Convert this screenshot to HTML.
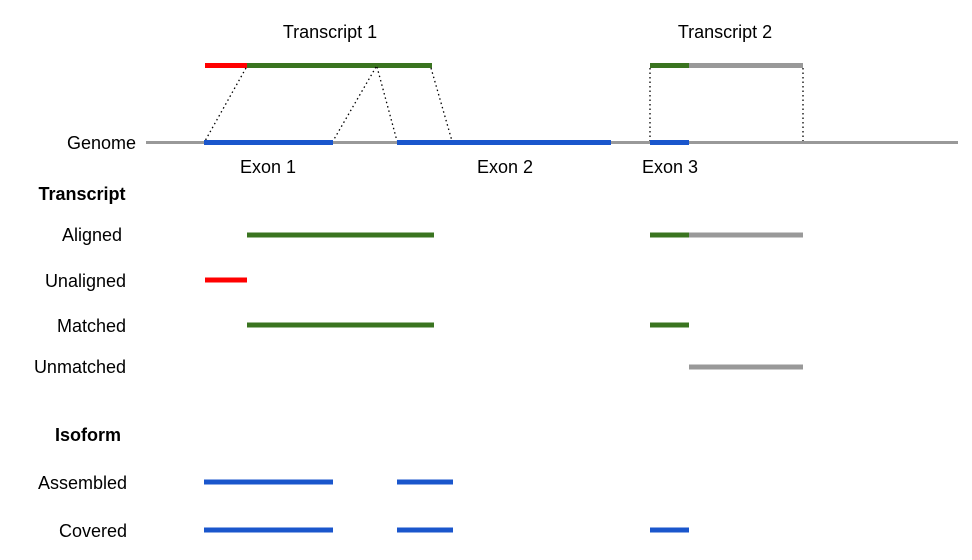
<!DOCTYPE html>
<html><head><style>body{margin:0;background:#fff}</style></head><body>
<svg width="972" height="555" xmlns="http://www.w3.org/2000/svg" font-family="Liberation Sans, sans-serif" font-size="18">
<rect width="972" height="555" fill="#fff"/>
<text x="330" y="38" text-anchor="middle">Transcript 1</text>
<text x="725" y="38" text-anchor="middle">Transcript 2</text>
<g stroke-width="5">
<line x1="205" y1="65.5" x2="247" y2="65.5" stroke="#f00"/>
<line x1="247" y1="65.5" x2="432" y2="65.5" stroke="#3a7420"/>
<line x1="650" y1="65.5" x2="689" y2="65.5" stroke="#3a7420"/>
<line x1="689" y1="65.5" x2="803" y2="65.5" stroke="#999"/>
</g>
<g stroke="#000" stroke-width="1.3" stroke-dasharray="1.5,3" fill="none">
<line x1="246" y1="68" x2="205" y2="141"/>
<line x1="376" y1="67" x2="333" y2="141"/>
<line x1="377" y1="67" x2="397" y2="141"/>
<line x1="431" y1="68" x2="452" y2="141"/>
<line x1="650" y1="68" x2="650" y2="141"/>
<line x1="803" y1="68" x2="803" y2="141"/>
</g>
<line x1="146" y1="142.5" x2="958" y2="142.5" stroke="#999" stroke-width="3"/>
<g stroke="#1a56cc" stroke-width="5">
<line x1="204" y1="142.5" x2="333" y2="142.5"/>
<line x1="397" y1="142.5" x2="611" y2="142.5"/>
<line x1="650" y1="142.5" x2="689" y2="142.5"/>
</g>
<text x="136" y="149" text-anchor="end">Genome</text>
<text x="268" y="173" text-anchor="middle">Exon 1</text>
<text x="505" y="173" text-anchor="middle">Exon 2</text>
<text x="670" y="173" text-anchor="middle">Exon 3</text>
<text x="82" y="200" text-anchor="middle" font-weight="bold">Transcript</text>
<text x="122" y="241" text-anchor="end">Aligned</text>
<text x="126" y="287" text-anchor="end">Unaligned</text>
<text x="126" y="332" text-anchor="end">Matched</text>
<text x="126" y="373" text-anchor="end">Unmatched</text>
<text x="88" y="441" text-anchor="middle" font-weight="bold">Isoform</text>
<text x="127" y="489" text-anchor="end">Assembled</text>
<text x="127" y="537" text-anchor="end">Covered</text>
<g stroke-width="5">
<line x1="247" y1="235" x2="434" y2="235" stroke="#3a7420"/>
<line x1="650" y1="235" x2="689" y2="235" stroke="#3a7420"/>
<line x1="689" y1="235" x2="803" y2="235" stroke="#999"/>
<line x1="205" y1="280" x2="247" y2="280" stroke="#f00"/>
<line x1="247" y1="325" x2="434" y2="325" stroke="#3a7420"/>
<line x1="650" y1="325" x2="689" y2="325" stroke="#3a7420"/>
<line x1="689" y1="367" x2="803" y2="367" stroke="#999"/>
<line x1="204" y1="482" x2="333" y2="482" stroke="#1a56cc"/>
<line x1="397" y1="482" x2="453" y2="482" stroke="#1a56cc"/>
<line x1="204" y1="530" x2="333" y2="530" stroke="#1a56cc"/>
<line x1="397" y1="530" x2="453" y2="530" stroke="#1a56cc"/>
<line x1="650" y1="530" x2="689" y2="530" stroke="#1a56cc"/>
</g>
</svg>
</body></html>
